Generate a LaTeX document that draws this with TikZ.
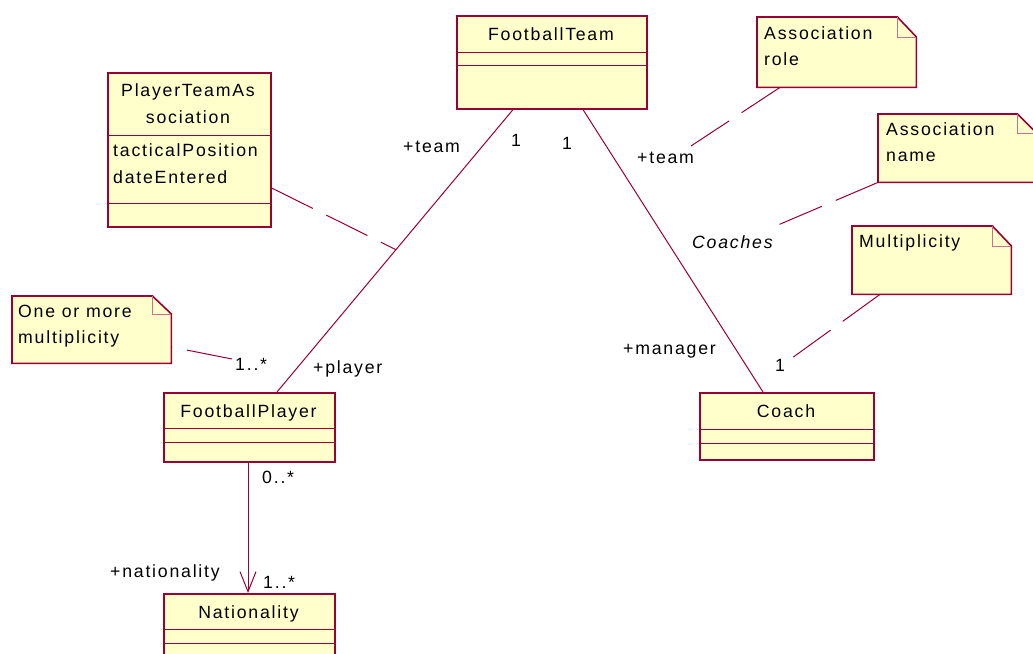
\documentclass[tikz,border=0pt]{standalone}
\usepackage{fontspec}
\setmainfont{Liberation Sans}[LetterSpace=10]
\usetikzlibrary{arrows.meta}
\definecolor{umlline}{RGB}{153,0,51}
\definecolor{umlfill}{RGB}{255,255,204}

\begin{document}
\begin{tikzpicture}[x=1pt,y=-1pt,
  txt/.style={inner sep=0pt, font=\fontsize{17.7}{21}\selectfont, text=black},
  classbox/.style={draw=umlline, fill=umlfill, line width=1.6pt, inner sep=0pt, anchor=north west},
  divider/.style={draw=umlline, line width=1pt},
  notearea/.style={inner sep=0pt, anchor=north west},
  notebody/.style={draw=umlline, fill=umlfill, line width=1.6pt, line join=miter},
  fold/.style={draw=umlline!55, line width=0.8pt},
  assoc/.style={draw=umlline, line width=1pt},
  anchorline/.style={draw=umlline, line width=1pt, dash pattern=on 46pt off 15pt},
]
\useasboundingbox (0,0) rectangle (1033,653);
\clip (0,0) rectangle (1033,653);

% ---------- classes ----------
\node[classbox, minimum width=190pt, minimum height=93pt] (team) at (456,15) {};
\draw[divider] ([yshift=-37pt]team.north west) -- ([yshift=-37pt]team.north east);
\draw[divider] ([yshift=-50pt]team.north west) -- ([yshift=-50pt]team.north east);
\node[txt, anchor=base] (teamName) at (551,40.5) {FootballTeam};

\node[classbox, minimum width=163pt, minimum height=154pt] (pta) at (107,72) {};
\draw[divider] ([yshift=-63pt]pta.north west) -- ([yshift=-63pt]pta.north east);
\draw[divider] ([yshift=-131pt]pta.north west) -- ([yshift=-131pt]pta.north east);
\node[txt, anchor=base] (ptaName1) at (188,96) {PlayerTeamAs};
\node[txt, anchor=base] (ptaName2) at (188,123) {sociation};
\node[txt, anchor=base west] (ptaAttr1) at (113,156) {tacticalPosition};
\node[txt, anchor=base west] (ptaAttr2) at (113,183) {dateEntered};

\node[classbox, minimum width=171pt, minimum height=69pt] (player) at (163,392) {};
\draw[divider] ([yshift=-36pt]player.north west) -- ([yshift=-36pt]player.north east);
\draw[divider] ([yshift=-50pt]player.north west) -- ([yshift=-50pt]player.north east);
\node[txt, anchor=base] (playerName) at (248.5,417) {FootballPlayer};

\node[classbox, minimum width=171pt, minimum height=80pt] (nation) at (163,593) {};
\draw[divider] ([yshift=-36pt]nation.north west) -- ([yshift=-36pt]nation.north east);
\draw[divider] ([yshift=-50pt]nation.north west) -- ([yshift=-50pt]nation.north east);
\node[txt, anchor=base] (nationName) at (248.5,618) {Nationality};

\node[classbox, minimum width=174pt, minimum height=67pt] (coach) at (699,392) {};
\draw[divider] ([yshift=-37pt]coach.north west) -- ([yshift=-37pt]coach.north east);
\draw[divider] ([yshift=-51pt]coach.north west) -- ([yshift=-51pt]coach.north east);
\node[txt, anchor=base] (coachName) at (786,417) {Coach};

% ---------- notes ----------
\node[notearea, minimum width=159pt, minimum height=70pt] (roleNote) at (757,17) {};
\draw[notebody] (roleNote.north west) -- ([xshift=-19pt]roleNote.north east)
  -- ([yshift=-20pt]roleNote.north east) -- (roleNote.south east) -- (roleNote.south west) -- cycle;
\draw[fold] ([xshift=-19pt]roleNote.north east) |- ([yshift=-20pt]roleNote.north east);
\node[txt, anchor=base west] (roleText1) at (764,39) {Association};
\node[txt, anchor=base west] (roleText2) at (764,65) {role};

\node[notearea, minimum width=158pt, minimum height=68pt] (nameNote) at (878,114) {};
\draw[notebody] (nameNote.north west) -- ([xshift=-19pt]nameNote.north east)
  -- ([yshift=-19pt]nameNote.north east) -- (nameNote.south east) -- (nameNote.south west) -- cycle;
\draw[fold] ([xshift=-19pt]nameNote.north east) |- ([yshift=-19pt]nameNote.north east);
\node[txt, anchor=base west] (nameText1) at (886,135) {Association};
\node[txt, anchor=base west] (nameText2) at (886,161.5) {name};

\node[notearea, minimum width=159pt, minimum height=68pt] (multNote) at (852,226) {};
\draw[notebody] (multNote.north west) -- ([xshift=-19pt]multNote.north east)
  -- ([yshift=-20pt]multNote.north east) -- (multNote.south east) -- (multNote.south west) -- cycle;
\draw[fold] ([xshift=-19pt]multNote.north east) |- ([yshift=-20pt]multNote.north east);
\node[txt, anchor=base west] (multText) at (859,247) {Multiplicity};

\node[notearea, minimum width=159pt, minimum height=67pt] (oneNote) at (12,296) {};
\draw[notebody] (oneNote.north west) -- ([xshift=-19pt]oneNote.north east)
  -- ([yshift=-18pt]oneNote.north east) -- (oneNote.south east) -- (oneNote.south west) -- cycle;
\draw[fold] ([xshift=-19pt]oneNote.north east) |- ([yshift=-18pt]oneNote.north east);
\node[txt, anchor=base west] (oneText1) at (18,317) {One or more};
\node[txt, anchor=base west] (oneText2) at (18,343.5) {multiplicity};

% ---------- associations ----------
\draw[assoc] ([xshift=57pt]team.south west) -- coordinate[pos=0.496] (ptaJoin) ([xshift=114pt]player.north west);
\draw[assoc] ([xshift=127pt]team.south west) -- ([xshift=64pt]coach.north west);
\draw[assoc, -{Straight Barb[length=20pt,width=16pt]}] ([xshift=85pt]player.south west) -- ([xshift=85pt]nation.north west);

% ---------- role names and multiplicities ----------
\node[txt, anchor=base west] (teamRoleL) at (403,152) {+team};
\node[txt, anchor=base] (teamMultL) at (516,146) {1};
\node[txt, anchor=base] (teamMultR) at (567,149) {1};
\node[txt, anchor=base west] (teamRoleR) at (637,163) {+team};
\node[txt, anchor=base west, font=\fontsize{17.7}{21}\selectfont\itshape] (coachesName) at (692,248) {Coaches};
\node[txt, anchor=base west] (managerRole) at (623,354) {+manager};
\node[txt, anchor=base] (coachMult) at (780,371) {1};
\node[txt, anchor=base west] (playerMult) at (235,370) {1..*};
\node[txt, anchor=base west] (playerRole) at (313,373) {+player};
\node[txt, anchor=base west] (natSrcMult) at (262,483) {0..*};
\node[txt, anchor=base west] (natRole) at (110,577) {+nationality};
\node[txt, anchor=base west] (natMult) at (263,588) {1..*};

% ---------- note and association-class anchors ----------
\coordinate (roleEnd) at (691,146);
\coordinate (nameEnd) at (778,225);
\coordinate (multEnd) at (792,358);
\coordinate (oneStart) at (232,359);

\draw[anchorline] ([yshift=-116pt]pta.north east) -- (ptaJoin);
\draw[anchorline] ([xshift=23pt]roleNote.south west) -- (roleEnd);
\draw[anchorline] (nameNote.south west) -- (nameEnd);
\draw[anchorline] ([xshift=28pt]multNote.south west) -- (multEnd);
\draw[anchorline] (oneStart) -- ([yshift=-51pt]oneNote.north east);
\end{tikzpicture}
\end{document}
